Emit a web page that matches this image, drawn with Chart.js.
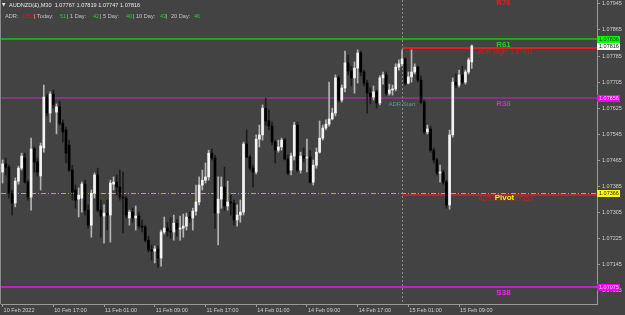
<!DOCTYPE html>
<html><head><meta charset="utf-8">
<script src="https://cdn.jsdelivr.net/npm/chart.js@4.4.0/dist/chart.umd.min.js"></script>
<style>html,body{margin:0;padding:0;background:#434343;overflow:hidden}#wrap{width:625px;height:315px;position:relative}</style>
</head><body><div id="wrap"><canvas id="c" width="625" height="315"></canvas></div>
<script>
// ---- data ----
const timeLabels = ["10 Feb 2022","10 Feb 17:00","11 Feb 01:00","11 Feb 09:00","11 Feb 17:00","14 Feb 01:00","14 Feb 09:00","14 Feb 17:00","15 Feb 01:00","15 Feb 09:00"];
const barsPerLabel = 16;
const slotCount = 188;
const opens = [1.07429,1.07454,1.07444,1.07364,1.07334,1.07401,1.07441,1.07472,1.07398,1.07352,1.07500,1.07460,1.07417,1.07503,1.07659,1.07610,1.07668,1.07613,1.07629,1.07579,
1.07558,1.07512,1.07435,1.07374,1.07346,1.07349,1.07392,1.07312,1.07266,1.07364,1.07420,1.07312,1.07294,1.07303,1.07297,1.07392,1.07398,1.07383,1.07352,1.07349,
1.07288,1.07306,1.07288,1.07294,1.07263,1.07260,1.07220,1.07190,1.07186,1.07193,1.07165,1.07245,1.07257,1.07248,1.07245,1.07272,1.07254,1.07257,1.07263,1.07291,
1.07288,1.07309,1.07337,1.07389,1.07404,1.07414,1.07487,1.07472,1.07303,1.07346,1.07383,1.07325,1.07337,1.07334,1.07282,1.07297,1.07306,1.07515,1.07475,1.07441,
1.07429,1.07530,1.07543,1.07625,1.07586,1.07570,1.07521,1.07496,1.07506,1.07527,1.07469,1.07435,1.07478,1.07573,1.07435,1.07478,1.07472,1.07475,1.07398,1.07450,
1.07490,1.07533,1.07564,1.07576,1.07592,1.07610,1.07718,1.07650,1.07687,1.07764,1.07739,1.07718,1.07748,1.07794,1.07736,1.07702,1.07671,1.07659,1.07675,1.07641,
1.07718,1.07727,1.07671,1.07681,1.07684,1.07751,1.07761,1.07776,1.07702,1.07721,1.07736,1.07751,1.07711,1.07644,1.07552,1.07561,1.07496,1.07466,1.07426,1.07429,
1.07398,1.07328,1.07543,1.07705,1.07696,1.07727,1.07705,1.07736,1.07767];
const highs = [1.07466,1.07472,1.07450,1.07374,1.07411,1.07447,1.07487,1.07487,1.07404,1.07533,1.07506,1.07472,1.07518,1.07696,1.07668,1.07675,1.07681,1.07638,1.07647,1.07589,
1.07567,1.07527,1.07450,1.07389,1.07380,1.07398,1.07404,1.07328,1.07374,1.07426,1.07441,1.07343,1.07328,1.07343,1.07404,1.07414,1.07420,1.07435,1.07429,1.07355,
1.07312,1.07318,1.07325,1.07306,1.07282,1.07266,1.07232,1.07205,1.07202,1.07202,1.07251,1.07291,1.07275,1.07288,1.07297,1.07282,1.07294,1.07300,1.07303,1.07306,
1.07318,1.07389,1.07414,1.07435,1.07457,1.07496,1.07500,1.07481,1.07414,1.07414,1.07444,1.07401,1.07358,1.07343,1.07328,1.07343,1.07521,1.07558,1.07481,1.07450,
1.07543,1.07573,1.07635,1.07656,1.07619,1.07582,1.07527,1.07527,1.07533,1.07533,1.07481,1.07487,1.07582,1.07582,1.07490,1.07503,1.07530,1.07496,1.07466,1.07503,
1.07586,1.07573,1.07589,1.07705,1.07625,1.07727,1.07724,1.07696,1.07800,1.07788,1.07754,1.07767,1.07804,1.07800,1.07742,1.07711,1.07687,1.07693,1.07681,1.07724,
1.07736,1.07736,1.07699,1.07696,1.07761,1.07773,1.07804,1.07779,1.07736,1.07804,1.07761,1.07754,1.07724,1.07650,1.07573,1.07570,1.07503,1.07472,1.07450,1.07435,
1.07404,1.07558,1.07718,1.07730,1.07742,1.07754,1.07742,1.07779,1.07819];
const lows = [1.07395,1.07420,1.07349,1.07297,1.07322,1.07392,1.07435,1.07395,1.07343,1.07312,1.07429,1.07417,1.07374,1.07490,1.07601,1.07582,1.07625,1.07546,1.07573,1.07521,
1.07457,1.07429,1.07343,1.07318,1.07291,1.07306,1.07297,1.07257,1.07229,1.07349,1.07306,1.07229,1.07211,1.07251,1.07214,1.07374,1.07358,1.07343,1.07242,1.07288,
1.07266,1.07275,1.07251,1.07257,1.07245,1.07214,1.07183,1.07159,1.07150,1.07137,1.07140,1.07239,1.07232,1.07226,1.07220,1.07232,1.07220,1.07229,1.07251,1.07275,
1.07251,1.07297,1.07328,1.07374,1.07395,1.07404,1.07466,1.07257,1.07205,1.07318,1.07312,1.07312,1.07297,1.07266,1.07263,1.07275,1.07297,1.07472,1.07435,1.07383,
1.07423,1.07506,1.07527,1.07573,1.07558,1.07512,1.07457,1.07490,1.07496,1.07466,1.07420,1.07420,1.07466,1.07429,1.07426,1.07460,1.07429,1.07395,1.07389,1.07441,
1.07487,1.07527,1.07558,1.07570,1.07589,1.07601,1.07644,1.07644,1.07675,1.07727,1.07693,1.07671,1.07702,1.07724,1.07693,1.07610,1.07638,1.07650,1.07625,1.07635,
1.07699,1.07665,1.07665,1.07665,1.07678,1.07742,1.07754,1.07696,1.07699,1.07705,1.07730,1.07705,1.07638,1.07546,1.07546,1.07490,1.07457,1.07420,1.07398,1.07392,
1.07318,1.07315,1.07536,1.07687,1.07690,1.07699,1.07699,1.07730,1.07747];
const closes = [1.07454,1.07444,1.07364,1.07334,1.07401,1.07441,1.07478,1.07398,1.07352,1.07500,1.07460,1.07429,1.07509,1.07659,1.07610,1.07668,1.07635,1.07629,1.07579,1.07552,
1.07487,1.07435,1.07368,1.07343,1.07358,1.07392,1.07312,1.07266,1.07364,1.07420,1.07312,1.07294,1.07303,1.07297,1.07395,1.07398,1.07383,1.07352,1.07349,1.07297,
1.07306,1.07288,1.07294,1.07263,1.07260,1.07220,1.07190,1.07186,1.07193,1.07165,1.07245,1.07257,1.07248,1.07245,1.07272,1.07254,1.07257,1.07263,1.07291,1.07288,
1.07309,1.07337,1.07389,1.07404,1.07414,1.07487,1.07472,1.07303,1.07346,1.07383,1.07325,1.07337,1.07334,1.07282,1.07297,1.07306,1.07515,1.07475,1.07441,1.07429,
1.07530,1.07543,1.07625,1.07586,1.07570,1.07521,1.07496,1.07506,1.07527,1.07469,1.07426,1.07478,1.07573,1.07435,1.07478,1.07472,1.07475,1.07398,1.07450,1.07490,
1.07533,1.07564,1.07576,1.07592,1.07610,1.07718,1.07650,1.07687,1.07764,1.07739,1.07718,1.07748,1.07794,1.07736,1.07702,1.07671,1.07659,1.07675,1.07641,1.07718,
1.07727,1.07671,1.07681,1.07684,1.07751,1.07761,1.07776,1.07702,1.07721,1.07736,1.07751,1.07711,1.07644,1.07552,1.07561,1.07496,1.07466,1.07426,1.07429,1.07398,
1.07328,1.07543,1.07705,1.07696,1.07727,1.07705,1.07736,1.07773,1.07816];
const yTickValues = [1.07945,1.07865,1.07785,1.07705,1.07625,1.07545,1.07465,1.07385,1.07305,1.07225,1.07145,1.07065];
const yMin = 1.07024, yMax = 1.07957;
const levelR76 = 1.07964, levelR61 = 1.07836, levelR38 = 1.07656, levelPivot = 1.07366, levelS38 = 1.07075;
const adrHigh = 1.07811, adrLow = 1.07359;
const adrStartIndex = 126;
const levelLabelIndex = 158;
const currentPrice = 1.07816;
const headerSymbol = "AUDNZD(£),M30";
const headerOHLC = ["1.07767","1.07819","1.07747","1.07816"];
const adrNames = ["ADR:","| Today:","| 1 Day:","| 5 Day:","| 10 Day:","|","20 Day:"];
const adrValues = ["115.67","51","42","40","43","","46"];

// ---- derived ----
const slotLabels = Array.from({length: slotCount}, (_, i) =>
  (i % barsPerLabel === 0 && timeLabels[i / barsPerLabel] !== undefined) ? timeLabels[i / barsPerLabel] : '');
const isBull = opens.map((o, i) => closes[i] >= o);
const FONT = 'Liberation Sans';

const bgPlugin = { id: 'bg', beforeDraw(c) { const x = c.ctx; x.save(); x.fillStyle = '#434343'; x.fillRect(0, 0, c.width, c.height); x.restore(); } };

function hline(ctx, y, x0, x1, color, w, dash) {
  ctx.save(); ctx.strokeStyle = color; ctx.lineWidth = w; ctx.setLineDash(dash || []);
  const yy = (w === 1) ? Math.round(y) + 0.5 : Math.round(y);
  ctx.beginPath(); ctx.moveTo(x0, yy); ctx.lineTo(x1, yy); ctx.stroke(); ctx.restore();
}
function txt(ctx, s, x, y, color, font, align, base) {
  ctx.fillStyle = color; ctx.font = font; ctx.textAlign = align || 'left'; ctx.textBaseline = base || 'middle'; ctx.fillText(s, x, y);
}

const levelsPlugin = {
  id: 'levels',
  beforeDatasetsDraw(c) {
    const ctx = c.ctx, a = c.chartArea, ys = c.scales.y, xs = c.scales.x;
    ctx.save(); ctx.beginPath(); ctx.rect(a.left, a.top, a.right - a.left, a.bottom - a.top); ctx.clip();
    const xStart = xs.getPixelForValue(adrStartIndex);
    hline(ctx, ys.getPixelForValue(levelR61), a.left, a.right, '#12c812', 1.5);
    hline(ctx, ys.getPixelForValue(levelR38), a.left, a.right, '#a02ca0', 1.5);
    hline(ctx, ys.getPixelForValue(levelPivot), a.left, a.right, '#b0b03a', 1, [5, 2, 1, 2]);
    hline(ctx, ys.getPixelForValue(levelS38), a.left, a.right, '#e61ae6', 1.5);
    hline(ctx, ys.getPixelForValue(adrHigh), xStart, a.right, '#e41c1c', 2);
    hline(ctx, ys.getPixelForValue(adrLow), xStart, a.right, '#b82626', 2);
    ctx.strokeStyle = '#8e8e8e'; ctx.lineWidth = 1; ctx.setLineDash([2, 2]);
    ctx.beginPath(); ctx.moveTo(Math.round(xStart) + 0.5, a.top); ctx.lineTo(Math.round(xStart) + 0.5, a.bottom); ctx.stroke();
    ctx.restore();
  },
  afterDraw(c) {
    const ctx = c.ctx, a = c.chartArea, ys = c.scales.y, xs = c.scales.x;
    ctx.save();
    ctx.strokeStyle = '#8a8a8a'; ctx.lineWidth = 1; ctx.beginPath(); ctx.moveTo(0.5, 0); ctx.lineTo(0.5, a.bottom); ctx.stroke();
    const lx = xs.getPixelForValue(levelLabelIndex);
    ctx.save(); ctx.beginPath(); ctx.rect(a.left, 0, a.right - a.left, a.bottom); ctx.clip();
    txt(ctx, 'R76', lx, ys.getPixelForValue(levelR76) + 1, '#e02020', 'bold 8px ' + FONT, 'center', 'top');
    txt(ctx, 'R61', lx, ys.getPixelForValue(levelR61) + 1, '#22d022', 'bold 8px ' + FONT, 'center', 'top');
    txt(ctx, 'ADR High: ' + adrHigh.toFixed(5), lx + 2, ys.getPixelForValue(adrHigh) + 1.5, '#d81a1a', '6.5px ' + FONT, 'center', 'top');
    txt(ctx, 'R38', lx, ys.getPixelForValue(levelR38) + 1.5, '#d42ad4', 'bold 8px ' + FONT, 'center', 'top');
    txt(ctx, 'ADR Start', xs.getPixelForValue(adrStartIndex), ys.getPixelForValue(levelR38) + 6, '#5f9a9c', '6px ' + FONT, 'center', 'middle');
    txt(ctx, 'ADR Low: ' + adrLow.toFixed(5), lx + 2, ys.getPixelForValue(adrLow) + 1.5, '#c02424', '6.5px ' + FONT, 'center', 'top');
    txt(ctx, 'Pivot', lx + 1, ys.getPixelForValue(levelPivot) + 1.5, '#f2f200', 'bold 8px ' + FONT, 'center', 'top');
    txt(ctx, 'S38', lx, ys.getPixelForValue(levelS38) + 1.5, '#ff1cff', 'bold 8px ' + FONT, 'center', 'top');
    ctx.restore();
    const boxes = [[levelR61, '#00ff00', '#003000'], [currentPrice, '#ffffff', '#202020'], [levelR38, '#ee00ee', '#ffd8ff'], [levelPivot, '#ffff00', '#202000'], [levelS38, '#ee00ee', '#ffd8ff']];
    boxes.forEach(([v, bgc, fg]) => {
      const y = ys.getPixelForValue(v);
      ctx.fillStyle = bgc; ctx.fillRect(a.right, Math.round(y) - 3, 23, 7);
      txt(ctx, v.toFixed(5), a.right + 2, Math.round(y) + 0.5, fg, '5.5px ' + FONT, 'left', 'middle');
    });
    txt(ctx, '▼', 2, 5, '#e8e8e8', '4.5px DejaVu Sans', 'left', 'middle');
    txt(ctx, headerSymbol + '  ' + headerOHLC.join(' '), 9, 5.5, '#e8e8e8', '5.6px ' + FONT, 'left', 'middle');
    const nameX = [5, 34, 67, 100, 133, 166, 171];
    const valX = [22, 60, 93, 126, 160, 0, 194];
    adrNames.forEach((n, i) => {
      txt(ctx, n, nameX[i], 16, '#c4c4c4', '5.6px ' + FONT, 'left', 'middle');
      if (adrValues[i]) txt(ctx, adrValues[i], valX[i], 16, i === 0 ? '#e01414' : '#2ec82e', '5.6px ' + FONT, 'left', 'middle');
    });
    ctx.restore();
  }
};

new Chart(document.getElementById('c'), {
  type: 'bar',
  data: {
    labels: slotLabels,
    datasets: [
      { label: 'body', data: opens.map((o, i) => [o, closes[i]]), backgroundColor: isBull.map(b => b ? '#f4f4f4' : '#000000'),
        barThickness: 2, minBarLength: 1, grouped: false, borderWidth: 0, order: 1 },
      { label: 'wick', data: lows.map((l, i) => [l, highs[i]]), backgroundColor: isBull.map(b => b ? '#b4b4b4' : '#1c1c1c'),
        barThickness: 1, grouped: false, borderWidth: 0, order: 2 }
    ]
  },
  options: {
    responsive: false, animation: false, devicePixelRatio: 1,
    layout: { padding: { left: 1, top: 0, right: 0, bottom: 0 } },
    plugins: { legend: { display: false }, tooltip: { enabled: false } },
    scales: {
      x: {
        type: 'category', offset: true,
        afterBuildTicks: s => { s.ticks = s.ticks.filter(t => slotLabels[t.value] !== ''); },
        afterFit: s => { s.height = 11; s.paddingLeft = 0; s.paddingRight = 0; },
        ticks: { autoSkip: false, maxRotation: 0, minRotation: 0, align: 'start', labelOffset: 1, padding: 0,
          font: { family: FONT, size: 5.5 }, color: '#d0d0d0' },
        grid: { drawOnChartArea: false, offset: false, tickLength: 3, color: '#9a9a9a' },
        border: { color: '#9a9a9a' }
      },
      y: {
        position: 'right', min: yMin, max: yMax,
        afterBuildTicks: s => { s.ticks = yTickValues.map(v => ({ value: v })); },
        afterFit: s => { s.width = 28; s.paddingTop = 0; s.paddingBottom = 0; },
        ticks: { callback: v => Number(v).toFixed(5), autoSkip: false, padding: 2, font: { family: FONT, size: 5.5 }, color: '#d0d0d0' },
        grid: { drawOnChartArea: false, tickLength: 3, color: '#9a9a9a' },
        border: { color: '#9a9a9a' }
      }
    }
  },
  plugins: [bgPlugin, levelsPlugin]
});
</script></body></html>
